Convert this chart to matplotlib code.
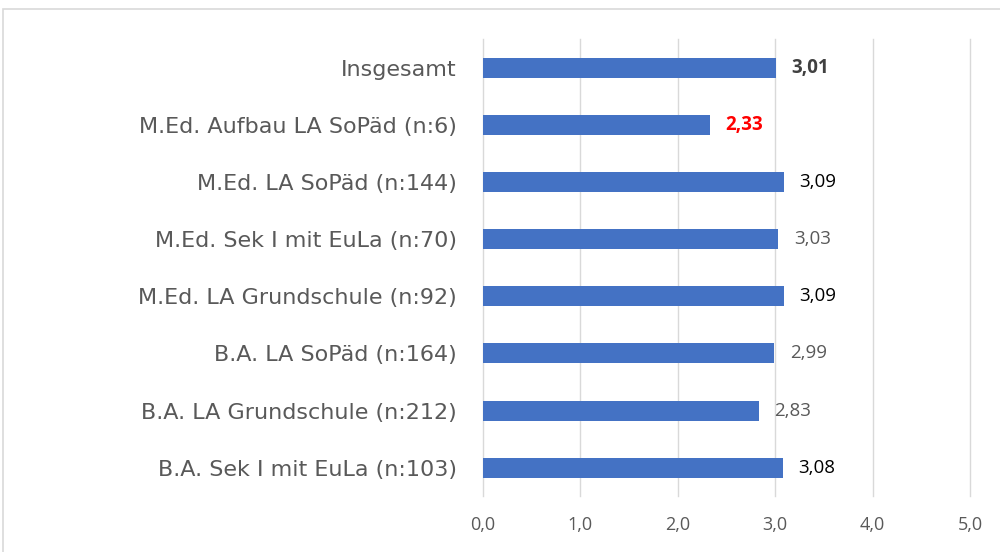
import matplotlib.pyplot as plt
from matplotlib.patches import Rectangle

categories = ["B.A. Sek I mit EuLa (n:103)", "B.A. LA Grundschule (n:212)",
              "B.A. LA SoPäd (n:164)", "M.Ed. LA Grundschule (n:92)",
              "M.Ed. Sek I mit EuLa (n:70)", "M.Ed. LA SoPäd (n:144)",
              "M.Ed. Aufbau LA SoPäd (n:6)", "Insgesamt"]
values = [3.08, 2.83, 2.99, 3.09, 3.03, 3.09, 2.33, 3.01]
labels = ["3,08", "2,83", "2,99", "3,09", "3,03", "3,09", "2,33", "3,01"]
label_colors = ["#000000", "#595959", "#595959", "#000000", "#595959", "#000000", "#FF0000", "#404040"]
label_bold = [False, False, False, False, False, False, True, True]
xticks = [0, 1, 2, 3, 4, 5]
xticklabels = ["0,0", "1,0", "2,0", "3,0", "4,0", "5,0"]

fig = plt.figure(figsize=(10, 5.52), dpi=100)
ax = fig.add_axes([0.483, 0.101, 0.487, 0.828])

# outer chart frame
fig.patches.append(Rectangle((0.003, -0.1), 1.2, 0.1 + 1 - 9 / 552, transform=fig.transFigure,
                             fill=False, edgecolor="#D9D9D9", linewidth=1.2))

y = range(len(categories))
ax.barh(y, values, height=0.35, color="#4472C4", zorder=3)

for i, v in enumerate(values):
    ax.text(v + 0.16, i, labels[i], va="center", ha="left", fontsize=13.5,
            family="Open Sans", color=label_colors[i],
            fontweight="bold" if label_bold[i] else "normal")

ax.set_xlim(0, 5)
ax.set_ylim(-0.5, len(categories) - 0.5)
ax.set_xticks(xticks)
ax.set_xticklabels(xticklabels, fontsize=13, family="Open Sans", color="#595959")
ax.set_yticks(list(y))
ax.set_yticklabels(categories, fontsize=16, color="#595959")
ax.tick_params(length=0, axis="x", pad=14)
ax.tick_params(length=0, axis="y", pad=19)
ax.grid(axis="x", color="#D9D9D9", linewidth=1, zorder=0)
for g in ax.get_xgridlines():
    g.set_clip_on(False)
for s in ax.spines.values():
    s.set_visible(False)

plt.savefig("out.png", dpi=100)
